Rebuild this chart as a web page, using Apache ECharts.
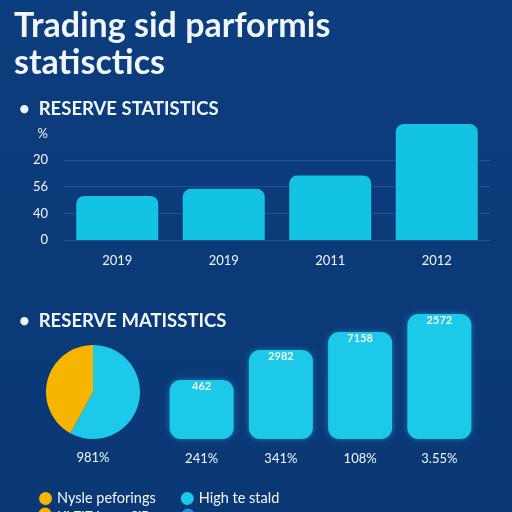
<!DOCTYPE html>
<html>
<head>
<meta charset="utf-8">
<script src="https://cdn.jsdelivr.net/npm/echarts@6/dist/echarts.min.js"></script>
<style>
html,body{margin:0;padding:0;width:512px;height:512px;overflow:hidden;background:#0b3a78;}
#c{width:512px;height:512px;}
</style>
</head>
<body>
<div id="c"></div>
<script>
// ---- data ----
var titleText = 'Trading sid parformis\nstatisctics';
var section1Title = 'RESERVE STATISTICS';
var section2Title = 'RESERVE MATISSTICS';

var topCategories = ['2019', '2019', '2011', '2012'];
var topValues = [1.65, 1.92, 2.42, 4.35];
var topTickLabels = ['0', '40', '56', '20', '%'];

var bottomCategories = ['241%', '341%', '108%', '3.55%'];
var bottomValues = [59, 89, 107, 125];
var bottomValueLabels = ['462', '2982', '7158', '2572'];

var pieNames = ['High te stald', 'Nysle peforings'];
var pieValues = [58, 42];
var pieCaption = '981%';

var legendRow2 = ['Ki 7i7 ia naa?iPes', 'Fl ...'];

// ---- chart ----
var WHITE = '#f2f6fc';
var CYAN = '#13c3e3';
var CYAN2 = '#1dc9e9';
var YELLOW = '#f7b500';
var FONT = 'Lato, "Open Sans", sans-serif';

var chart = echarts.init(document.getElementById('c'), null, {renderer: 'canvas'});

var option = {
  backgroundColor: {
    type: 'linear', x: 0, y: 0, x2: 0, y2: 1,
    colorStops: [{offset: 0, color: '#0c3d7d'}, {offset: 1, color: '#0a3875'}]
  },
  animation: false,
  title: [{
    text: titleText,
    left: 9, top: 3,
    textStyle: {color: WHITE, fontFamily: FONT, fontSize: 34, fontWeight: 'bold', lineHeight: 37}
  }, {
    text: '•  ' + section1Title,
    left: 14, top: 95,
    textStyle: {color: WHITE, fontFamily: FONT, fontSize: 18.5, fontWeight: 'bold'}
  }, {
    text: '•  ' + section2Title,
    left: 14, top: 307,
    textStyle: {color: WHITE, fontFamily: FONT, fontSize: 18.5, fontWeight: 'bold'}
  }],
  legend: {
    data: ['Nysle peforings', 'High te stald'],
    left: 34, top: 486,
    icon: 'circle', itemWidth: 13, itemHeight: 13, itemGap: 25,
    textStyle: {color: WHITE, fontFamily: FONT, fontSize: 14.5, padding: [0, 0, 0, 0]}
  },
  grid: [
    {left: 64, right: 22, top: 120, height: 120},
    {left: 162, right: 33, top: 309, height: 130}
  ],
  xAxis: [{
    type: 'category', gridIndex: 0, data: topCategories,
    axisLine: {show: false}, axisTick: {show: false},
    axisLabel: {color: WHITE, fontFamily: FONT, fontSize: 13, margin: 14}
  }, {
    type: 'category', gridIndex: 1, data: bottomCategories,
    axisLine: {show: false}, axisTick: {show: false},
    axisLabel: {color: WHITE, fontFamily: FONT, fontSize: 13, margin: 13}
  }],
  yAxis: [{
    type: 'value', gridIndex: 0, min: 0, max: 4.5, interval: 1,
    axisLine: {show: false}, axisTick: {show: false},
    axisLabel: {
      color: WHITE, fontFamily: FONT, fontSize: 13, margin: 16, showMaxLabel: false,
      formatter: function (v) { return Number.isInteger(v) ? topTickLabels[v] : ''; }
    },
    splitLine: {
      show: true,
      lineStyle: {color: ['rgba(120,160,220,0.22)', 'rgba(120,160,220,0.22)', 'rgba(120,160,220,0.22)', 'rgba(120,160,220,0.22)', 'rgba(0,0,0,0)', 'rgba(0,0,0,0)'], width: 1}
    }
  }, {
    type: 'value', gridIndex: 1, min: 0, max: 130, show: false
  }],
  series: [{
    type: 'bar', xAxisIndex: 0, yAxisIndex: 0,
    data: topValues, barWidth: 82,
    itemStyle: {color: CYAN, borderRadius: [8, 8, 0, 0]}
  }, {
    type: 'bar', xAxisIndex: 1, yAxisIndex: 1,
    data: bottomValues, barWidth: 64,
    itemStyle: {color: CYAN2, borderRadius: 11, shadowColor: 'rgba(40,200,240,0.45)', shadowBlur: 6},
    label: {
      show: true, position: 'insideTop', distance: 1,
      color: WHITE, fontFamily: FONT, fontSize: 11, fontWeight: 'bold',
      formatter: function (p) { return bottomValueLabels[p.dataIndex]; }
    }
  }, {
    type: 'pie', center: [93, 392], radius: 47, startAngle: 90, clockwise: true,
    label: {show: false}, labelLine: {show: false},
    data: [
      {name: pieNames[0], value: pieValues[0], itemStyle: {color: CYAN2}},
      {name: pieNames[1], value: pieValues[1], itemStyle: {color: YELLOW}}
    ]
  }],
  graphic: [{
    type: 'text',
    style: {text: pieCaption, x: 93, y: 458, align: 'center', verticalAlign: 'middle', fill: WHITE, font: '13px ' + FONT}
  }, {
    type: 'circle', shape: {cx: 45, cy: 514, r: 6.5}, style: {fill: YELLOW}
  }, {
    type: 'text', style: {text: legendRow2[0], x: 57, y: 509, fill: WHITE, font: '14px ' + FONT}
  }, {
    type: 'circle', shape: {cx: 188, cy: 515, r: 6.5}, style: {fill: '#2a8be0'}
  }, {
    type: 'text', style: {text: legendRow2[1], x: 198, y: 510, fill: WHITE, font: '14px ' + FONT}
  }]
};
chart.setOption(option);
</script>
</body>
</html>
